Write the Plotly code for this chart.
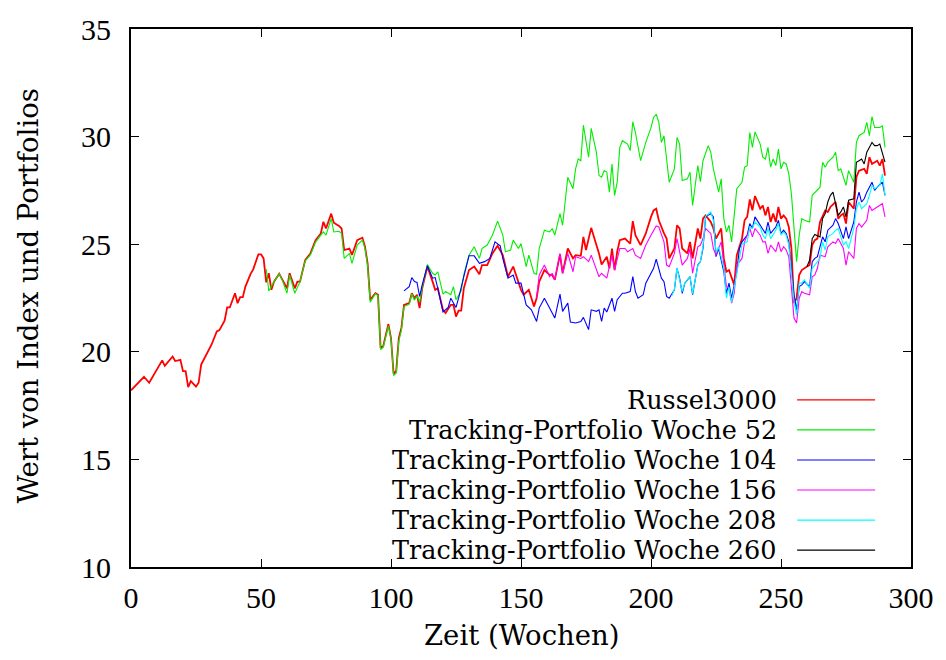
import plotly.graph_objects as go

# ---------------- data (week, value) ----------------
russel3000 = [(0,18.21),(5,18.84),(7,18.56),(10,19.18),(12,19.60),(13,19.35),(16,19.78),(17,19.57),(19,19.63),(20,19.10),
(21,19.10),(22,18.36),(23,18.64),(25,18.38),(26,18.56),(27,19.41),(29,19.90),(31,20.34),(33,20.95),(34,21.01),(36,21.45),
(37,22.06),(38,22.06),(40,22.72),(41,22.26),(42,22.54),(43,22.54),(44,23.03),(46,23.62),(47,23.83),(49,24.53),(50,24.53),
(51,24.34),(52,23.23),(53,23.65),(54,22.88),(55,23.26),(57,23.63),(58,23.40),(60,22.95),(61,23.65),(63,22.95),(64,23.26),
(65,23.26),(67,24.26),(69,24.57),(71,25.19),(73,25.50),(74,26.04),(75,25.73),(77,26.42),(78,26.00),(80,25.85),(81,25.73),
(82,24.73),(84,24.80),(85,24.50),(87,25.19),(89,25.30),(90,24.88),(91,24.11),(92,22.42),(94,22.72),(95,22.65),(96,20.18),
(97,20.26),(99,21.29),(100,20.64),(101,18.98),(102,19.10),(103,20.64),(104,21.11),(105,22.18),(107,22.26),(108,22.72),
(109,22.49),(110,22.65),(111,22.03),(112,22.95),(114,23.96),(116,23.26),(117,22.88),(118,22.95),(120,21.95),(121,21.80),
(123,22.18),(124,22.18),(125,21.64),(126,21.91),(127,21.91),(128,22.95),(130,23.80),(132,23.96),(134,23.60),(135,24.03),
(137,24.03),(139,24.57),(141,24.93),(143,24.49),(145,23.49),(147,23.96),(148,23.57),(150,22.88),(151,22.65),(153,22.88),
(155,22.11),(156,22.49),(157,23.26),(159,23.80),(161,23.57),(162,23.57),(163,23.34),(165,24.53),(166,23.65),(168,24.80),
(170,24.34),(171,24.49),(173,24.46),(174,25.34),(175,24.73),(177,25.76),(179,24.96),(180,24.57),(181,24.06),(183,24.42),
(184,23.88),(185,24.80),(186,23.80),(187,24.65),(188,25.19),(190,25.26),(191,25.14),(192,25.03),(193,26.07),(194,25.42),
(196,24.96),(198,25.50),(200,26.27),(201,26.57),(202,26.65),(203,26.11),(205,25.50),(206,25.26),(207,24.34),(209,24.80),
(210,25.88),(211,25.73),(212,24.80),(214,24.57),(215,25.11),(216,24.34),(218,25.73),(219,25.26),(220,26.19),(221,26.34),
(223,26.03),(224,25.73),(225,25.26),(227,25.73),(228,24.34),(229,23.72),(230,23.80),(232,23.11),(233,24.49),(235,25.26),
(236,26.11),(237,26.27),(238,27.08),(239,26.57),(240,27.24),(242,26.65),(243,26.80),(244,26.34),(245,26.73),(246,26.03),
(247,26.42),(248,26.03),(249,26.73),(250,26.19),(251,26.34),(252,26.19),(253,25.80),(254,24.80),(255,22.26),(256,22.49),
(257,23.57),(258,23.80),(260,23.96),(261,24.03),(262,24.96),(263,25.19),(264,25.26),(265,26.03),(267,26.57),(268,26.50),
(269,26.73),(271,26.96),(272,26.19),(273,26.34),(274,26.42),(275,25.96),(276,26.96),(278,26.65),(279,28.11),(280,28.42),
(282,28.50),(283,28.27),(284,29.04),(285,28.73),(287,28.88),(288,28.65),(289,28.96),(290,28.19)]

woche52 = [(52,23.85),(53,22.83),(55,23.26),(57,23.62),(58,23.39),(60,22.72),(61,23.57),(63,22.72),(65,23.26),(67,24.22),
(69,24.50),(71,25.10),(73,25.42),(74,25.57),(75,25.42),(77,26.19),(78,25.57),(80,25.60),(81,25.50),(82,24.34),(84,24.57),
(85,24.11),(87,24.96),(89,25.19),(90,24.80),(91,24.00),(92,22.30),(94,22.70),(95,22.60),(96,20.10),(97,20.20),(99,21.20),
(100,20.60),(101,18.90),(102,19.00),(103,20.50),(104,21.00),(105,22.10),(107,22.20),(108,22.70),(109,22.40),(110,22.60),
(111,22.30),(112,23.00),(114,24.06),(116,23.65),(117,23.57),(118,23.72),(120,22.68),(121,22.80),(123,22.65),(124,23.03),
(125,22.42),(127,22.83),(128,23.57),(130,24.49),(132,24.88),(134,24.34),(135,24.80),(137,24.96),(139,25.42),(141,26.07),
(143,25.42),(144,24.65),(146,24.73),(147,25.19),(149,24.80),(150,25.03),(152,23.96),(153,24.49),(155,23.65),(156,23.60),
(157,24.80),(159,25.65),(161,25.57),(162,25.73),(163,25.42),(165,26.42),(166,25.88),(168,28.11),(170,27.58),(171,28.50),
(172,28.96),(173,28.88),(174,30.53),(176,29.04),(177,30.38),(179,29.27),(180,28.19),(181,28.11),(182,28.42),(183,28.35),
(184,27.42),(185,28.73),(186,27.27),(187,27.88),(188,29.50),(189,29.81),(191,29.65),(192,29.35),(193,30.69),(194,30.19),
(196,28.88),(198,29.73),(200,30.42),(201,30.89),(202,31.04),(203,30.66),(204,29.73),(205,30.04),(207,27.88),(209,28.50),
(210,29.96),(211,29.65),(212,27.96),(214,28.04),(215,28.35),(216,26.80),(218,28.65),(219,27.91),(220,28.88),(222,29.58),
(223,29.27),(224,28.50),(226,27.42),(227,28.04),(228,26.19),(229,25.57),(230,25.88),(231,25.11),(232,26.34),(233,27.58),
(235,27.88),(236,28.58),(237,28.65),(238,30.19),(239,29.50),(240,30.22),(242,29.65),(243,29.04),(244,28.96),(245,29.50),
(246,28.58),(247,28.96),(248,28.65),(249,29.42),(250,28.50),(251,28.81),(252,28.73),(253,28.27),(254,27.34),(255,25.88),
(256,24.19),(257,25.42),(258,26.19),(259,26.11),(261,26.03),(262,27.27),(264,27.50),(265,27.65),(266,28.81),(267,28.58),
(268,28.81),(270,29.04),(271,29.27),(272,28.42),(273,28.50),(275,27.73),(276,28.42),(277,28.11),(278,27.88),(279,29.73),
(280,30.04),(282,30.19),(283,30.66),(284,30.04),(285,30.93),(286,30.42),(288,30.42),(289,30.50),(290,29.50)]

woche104 = [(105,22.83),(107,23.03),(108,23.45),(109,23.26),(110,23.22),(111,22.57),(112,23.11),(114,24.00),(116,23.42),
(117,23.45),(118,22.95),(120,21.85),(122,22.06),(123,22.49),(125,22.06),(126,22.49),(128,23.49),(130,24.46),(132,24.46),
(134,24.11),(136,24.19),(138,24.34),(140,25.11),(142,24.93),(143,24.34),(145,23.42),(147,23.57),(148,23.19),(150,23.19),
(152,22.18),(154,21.95),(156,21.41),(157,22.03),(159,22.49),(161,22.03),(163,21.57),(165,22.68),(166,21.88),(168,22.26),
(169,21.38),(171,21.34),(173,21.41),(174,21.60),(176,21.03),(177,21.95),(179,21.88),(180,21.95),(181,21.41),(182,22.03),
(183,21.85),(185,22.49),(186,21.88),(187,22.42),(189,22.72),(190,22.72),(192,22.80),(193,23.49),(194,22.80),(195,22.49),
(197,22.65),(198,23.19),(200,23.65),(201,23.88),(202,24.31),(204,23.42),(205,23.26),(206,22.57),(207,22.49),(209,22.88),
(210,23.88),(211,23.42),(212,22.72),(213,23.19),(215,23.49),(216,22.65),(218,24.03),(219,24.19),(220,24.80),(221,26.27),
(223,26.42),(224,26.27),(225,24.42),(226,24.80),(228,23.72),(229,22.72),(230,23.19),(231,22.49),(233,23.72),(234,24.80),
(235,25.11),(237,25.42),(238,25.96),(239,25.73),(240,26.27),(242,25.88),(243,25.65),(244,25.50),(245,26.03),(246,25.50),
(248,25.80),(249,26.11),(250,25.50),(251,25.65),(252,25.50),(253,25.11),(254,23.88),(255,22.65),(256,21.95),(257,23.03),
(258,23.11),(259,23.26),(261,23.03),(262,24.19),(263,24.34),(264,24.42),(266,25.34),(267,25.11),(268,25.65),(270,25.88),
(271,26.19),(272,25.96),(274,25.26),(275,25.80),(276,25.26),(278,26.03),(279,26.96),(280,27.42),(281,26.96),(282,27.11),
(283,27.42),(285,27.88),(286,27.50),(287,27.65),(289,27.88),(290,27.27)]

woche156 = [(156,22.49),(157,23.57),(159,24.03),(161,23.49),(162,23.65),(163,23.34),(165,24.57),(166,23.65),(168,24.57),
(170,23.72),(171,24.42),(173,24.34),(174,24.42),(176,24.19),(177,24.49),(179,23.80),(180,23.49),(181,23.65),(183,23.42),
(184,23.96),(185,24.49),(186,23.80),(187,24.34),(188,24.80),(190,24.80),(191,24.65),(193,24.80),(194,24.49),(196,24.34),
(198,24.96),(200,25.42),(201,25.65),(202,25.85),(203,25.80),(205,25.11),(206,24.03),(207,23.96),(209,24.57),(210,25.26),
(211,24.65),(212,24.03),(214,24.34),(215,24.80),(216,23.65),(218,24.88),(219,24.96),(220,25.26),(221,25.73),(223,25.50),
(224,24.80),(225,24.49),(227,25.11),(228,24.19),(229,23.03),(230,22.95),(231,22.26),(232,22.72),(233,24.03),(235,24.34),
(236,25.11),(237,25.42),(238,25.73),(239,25.34),(240,25.73),(242,25.42),(243,25.11),(244,25.11),(245,24.57),(246,24.96),
(248,24.65),(249,25.11),(250,24.65),(251,24.88),(252,24.73),(253,24.42),(254,23.03),(255,21.57),(256,21.34),(257,22.49),
(258,22.80),(259,22.72),(261,22.65),(262,23.49),(263,23.57),(264,23.88),(265,24.49),(267,24.42),(268,24.88),(270,25.11),
(271,25.03),(272,25.26),(274,24.80),(275,24.03),(276,24.65),(278,24.34),(279,25.73),(280,25.96),(281,25.80),(283,26.11),
(284,26.80),(285,26.57),(287,26.73),(288,26.80),(289,26.88),(290,26.27)]

woche208 = [(208,22.60),(209,22.90),(210,23.90),(211,23.40),(212,22.80),(213,23.20),(215,23.50),(216,22.70),(218,24.00),
(219,24.20),(220,24.90),(221,26.30),(223,26.50),(224,26.10),(225,24.60),(226,24.90),(228,23.90),(229,22.50),(230,23.00),
(231,22.30),(233,23.60),(234,24.19),(235,25.00),(237,25.11),(238,25.80),(239,25.73),(240,26.03),(242,25.80),(243,25.42),
(244,25.26),(245,25.73),(246,25.26),(248,25.65),(249,25.96),(250,25.42),(251,25.57),(252,25.42),(253,24.96),(254,23.57),
(255,22.34),(256,21.72),(257,23.19),(258,23.19),(259,23.34),(261,22.95),(262,23.88),(263,24.03),(265,24.34),(266,25.11),
(267,24.73),(268,25.34),(270,25.50),(271,25.65),(272,25.73),(274,24.96),(275,25.11),(276,24.80),(278,25.73),(279,26.65),
(280,26.96),(281,26.65),(283,26.88),(284,27.27),(285,27.73),(286,27.58),(288,27.73),(289,28.27),(290,27.27)]

woche260 = [(260,23.96),(261,24.26),(262,25.26),(263,25.45),(265,25.34),(266,26.19),(267,26.42),(268,26.96),(269,27.27),
(270,27.42),(271,26.88),(272,26.34),(273,26.50),(274,26.73),(275,26.27),(276,27.04),(278,27.11),(279,28.81),(280,28.88),
(281,28.96),(282,28.73),(283,29.27),(285,29.73),(286,29.58),(287,29.58),(288,29.65),(290,28.81)]

series_names = ["Russel3000", "Tracking-Portfolio Woche 52", "Tracking-Portfolio Woche 104",
                "Tracking-Portfolio Woche 156", "Tracking-Portfolio Woche 208", "Tracking-Portfolio Woche 260"]
series_data = [russel3000, woche52, woche104, woche156, woche208, woche260]
x_ticks = [0, 50, 100, 150, 200, 250, 300]
y_ticks = [10, 15, 20, 25, 30, 35]

# ---------------- style ----------------
colors = ["#ff0000", "#00ee00", "#0000ff", "#ff00ff", "#00ffff", "#000000"]
widths = [1.8, 1.1, 1.1, 1.1, 1.1, 1.1]
KEY = dict(family="DejaVu Serif, Liberation Serif, serif", size=25.5, color="black")
TXT = dict(family="DejaVu Serif, Liberation Serif, serif", size=27.5, color="black")
TICK = dict(family="Liberation Serif, DejaVu Serif, serif", size=30, color="black")

fig = go.Figure()
for name, data, col, w in zip(series_names, series_data, colors, widths):
    wk = [p[0] for p in data]
    val = [p[1] for p in data]
    fig.add_trace(go.Scatter(x=wk, y=val, mode="lines", name=name,
                             line=dict(color=col, width=w), showlegend=False))

# gnuplot-style key: text right-aligned, sample line to its right
key_text_x = 0.831
key_line_x0, key_line_x1 = 0.854, 0.954
key_y0, key_dy = 0.3105, 0.0558
for i, (name, col) in enumerate(zip(series_names, colors)):
    yk = key_y0 - i * key_dy
    fig.add_annotation(x=key_text_x, y=yk, xref="paper", yref="paper", text=name,
                       xanchor="right", yanchor="middle", showarrow=False, font=KEY)
    fig.add_shape(type="line", xref="paper", yref="paper", x0=key_line_x0, x1=key_line_x1,
                  y0=yk, y1=yk, line=dict(color=col, width=1.2))

# axis titles
fig.add_annotation(x=0.5, y=-0.1257, xref="paper", yref="paper", text="Zeit (Wochen)",
                   xanchor="center", yanchor="middle", showarrow=False, font=TXT)
fig.add_annotation(x=-0.1319, y=0.503, xref="paper", yref="paper", text="Wert von Index und Portfolios",
                   textangle=-90, xanchor="center", yanchor="middle", showarrow=False, font=TXT)

axis_common = dict(showline=True, linecolor="black", linewidth=2, mirror="ticks",
                   ticks="inside", ticklen=8, tickwidth=1, tickcolor="black",
                   showgrid=False, zeroline=False, tickfont=TICK)
fig.update_xaxes(range=[0, 300], tickvals=x_ticks, ticklabelstandoff=3, **axis_common)
fig.update_yaxes(range=[10, 35], tickvals=y_ticks, ticklabelstandoff=12, **axis_common)

fig.update_layout(width=946, height=660, margin=dict(l=131, r=34, t=26, b=93),
                  plot_bgcolor="white", paper_bgcolor="white")
fig.write_html("out.html")
